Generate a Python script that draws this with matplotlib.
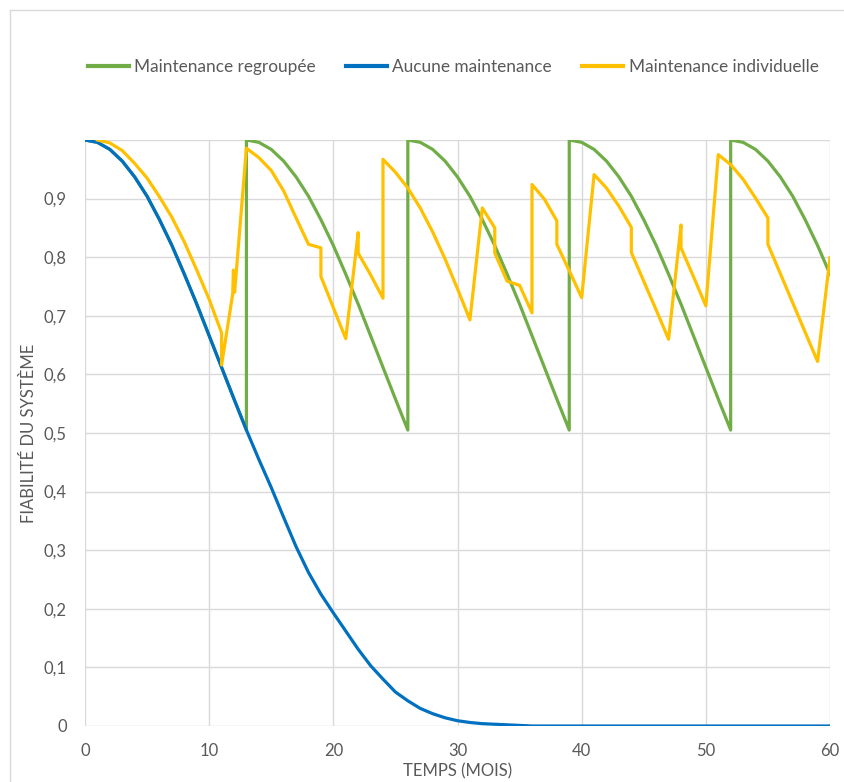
import numpy as np
import matplotlib.pyplot as plt
from matplotlib.lines import Line2D

plt.rcParams['font.family'] = ['Lato', 'DejaVu Sans']

# aucune maintenance (mois 0..60)
mois = list(range(0, 61))
aucune = [1.000, 0.996, 0.984, 0.964, 0.937, 0.904, 0.864, 0.820, 0.771, 0.720,
          0.666, 0.612, 0.558, 0.505, 0.455, 0.407, 0.356, 0.306, 0.262, 0.225,
          0.193, 0.162, 0.131, 0.103, 0.080, 0.058, 0.043, 0.030, 0.021, 0.014,
          0.009, 0.006, 0.004, 0.003, 0.002, 0.001, 0.0, 0.0, 0.0, 0.0,
          0.0, 0.0, 0.0, 0.0, 0.0, 0.0, 0.0, 0.0, 0.0, 0.0,
          0.0, 0.0, 0.0, 0.0, 0.0, 0.0, 0.0, 0.0, 0.0, 0.0, 0.0]

# maintenance regroupee : remise a neuf tous les 13 mois
mois_reg = list(range(0, 14)) + list(range(13, 27)) + list(range(26, 40)) + \
    list(range(39, 53)) + list(range(52, 61))
regroupee = [1.000, 0.996, 0.984, 0.964, 0.937, 0.904, 0.864, 0.820, 0.771, 0.720, 0.666, 0.612, 0.558, 0.505,
             1.000, 0.996, 0.984, 0.964, 0.937, 0.904, 0.864, 0.820, 0.771, 0.720, 0.666, 0.612, 0.558, 0.505,
             1.000, 0.996, 0.984, 0.964, 0.937, 0.904, 0.864, 0.820, 0.771, 0.720, 0.666, 0.612, 0.558, 0.505,
             1.000, 0.996, 0.984, 0.964, 0.937, 0.904, 0.864, 0.820, 0.771, 0.720, 0.666, 0.612, 0.558, 0.505,
             1.000, 0.996, 0.984, 0.964, 0.937, 0.904, 0.864, 0.820, 0.771]

# maintenance individuelle
mois_ind = [1, 2, 3, 4, 5, 6, 7, 8, 9, 10, 11, 11, 11.9, 11.95, 12.05, 13, 14, 15, 16, 17, 18,
            19, 19, 20, 21, 22, 22, 23, 24, 24, 25, 26, 27, 28, 29, 30, 31, 32, 33, 33, 34, 35,
            36, 36, 37, 38, 38, 39, 40, 41, 42, 43, 44, 44, 45, 46, 47, 48, 48, 49, 50, 51, 52,
            53, 54, 55, 55, 56, 57, 58, 59, 60]
individuelle = [1.000, 0.995, 0.982, 0.960, 0.935, 0.903, 0.868, 0.826, 0.778, 0.728, 0.671, 0.616,
                0.738, 0.778, 0.740, 0.986, 0.970, 0.948, 0.913, 0.867, 0.822,
                0.816, 0.767, 0.714, 0.661, 0.842, 0.807, 0.770, 0.730, 0.967, 0.945, 0.918, 0.884,
                0.843, 0.797, 0.746, 0.693, 0.884, 0.850, 0.807, 0.759, 0.752,
                0.705, 0.924, 0.899, 0.862, 0.822, 0.777, 0.731, 0.941, 0.918, 0.887, 0.851, 0.808,
                0.759, 0.710, 0.660, 0.855, 0.816, 0.767, 0.717, 0.975, 0.958,
                0.933, 0.901, 0.867, 0.822, 0.772, 0.722, 0.672, 0.622, 0.799]

vert = '#70AD47'
bleu = '#0070C0'
jaune = '#FFC000'
gris = '#595959'

fig = plt.figure(figsize=(8.44, 7.82), dpi=100)
ax = fig.add_axes([85 / 844, 56 / 782, 745 / 844, 586 / 782])

ax.plot(mois_reg, regroupee, color=vert, lw=2.3, label='Maintenance regroupée')
ax.plot(mois, aucune, color=bleu, lw=2.3, label='Aucune maintenance')
ax.plot(mois_ind, individuelle, color=jaune, lw=2.3, label='Maintenance individuelle')

ax.set_xlim(0, 60)
ax.set_ylim(0, 1)
ax.set_xticks(range(0, 61, 10))
yt = np.arange(0, 1.01, 0.1)
ax.set_yticks(yt)
ax.set_yticklabels([('%.1f' % v).replace('.', ',') if v > 0.05 else '0' for v in yt[:-1]] + [''])
ax.grid(True, color='#D9D9D9', lw=1)
ax.set_axisbelow(True)
for s in ax.spines.values():
    s.set_visible(False)
ax.tick_params(length=0, colors=gris, labelsize=12)
ax.tick_params(axis='y', pad=13)
ax.tick_params(axis='x', pad=12)

ax.set_xlabel('TEMPS (MOIS)', color=gris, fontsize=12)
ax.set_ylabel('FIABILITÉ DU SYSTÈME', color=gris, fontsize=12)
ax.xaxis.set_label_coords(0.5, -0.063)
ax.yaxis.set_label_coords(-0.064, 0.5)

handles = [Line2D([], [], color=c, lw=3) for c in (vert, bleu, jaune)]
fig.legend(handles, ['Maintenance regroupée', 'Aucune maintenance', 'Maintenance individuelle'],
           loc='center', bbox_to_anchor=(453 / 844, 1 - 67 / 782), ncol=3, frameon=False,
           fontsize=12.4, labelcolor=gris, handlelength=2.4, handletextpad=0.3, columnspacing=1.75)

# bord du cadre
fig.add_artist(Line2D([10 / 844, 10 / 844], [0, 1 - 10 / 782], color='#D9D9D9', lw=1))
fig.add_artist(Line2D([10 / 844, 1], [1 - 10 / 782, 1 - 10 / 782], color='#D9D9D9', lw=1))

fig.savefig('out.png', dpi=100)
